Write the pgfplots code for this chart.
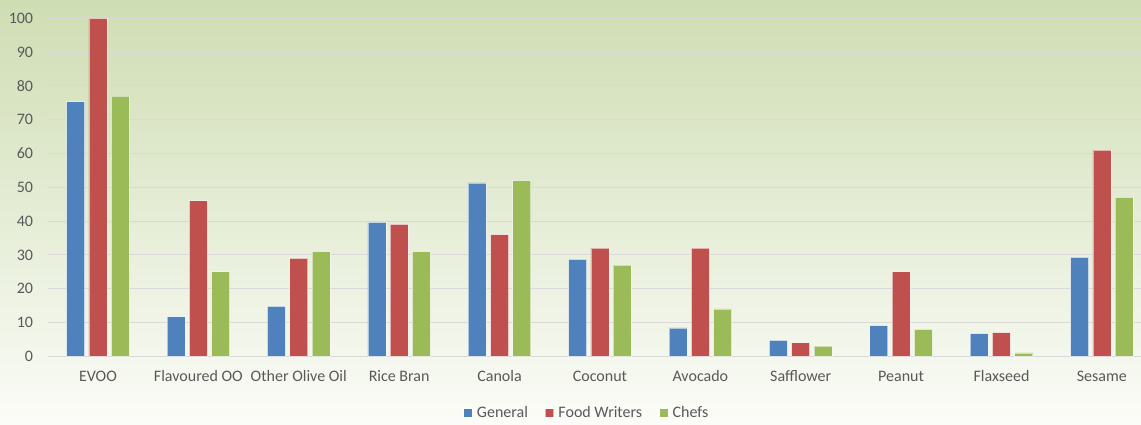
\documentclass[border=0pt]{standalone}
\usepackage{fontspec}
\setmainfont{Carlito}
\usepackage{pgfplots}
\usepackage{pgfplotstable}
\pgfplotsset{compat=1.18}

\definecolor{cGeneral}{HTML}{4F81BD}
\definecolor{cWriters}{HTML}{C0504D}
\definecolor{cChefs}{HTML}{9BBB59}
\definecolor{txt}{HTML}{595959}
\definecolor{gridc}{HTML}{D9D9D9}
\definecolor{bgTop}{HTML}{CFDDB3}
\definecolor{bgBot}{HTML}{FBFCF8}

% Oil preference scores by respondent group
\pgfplotstableread{
idx General Writers Chefs
0   75.3    100     77
1   11.7    46      25
2   14.8    29      31
3   39.6    39      31
4   51.3    36      52
5   28.7    32      27
6   8.4     32      14
7   4.7     4       3
8   9.1     25      8
9   6.7     7       1
10  29.3    61      47
}\oils

\newcommand{\chartfont}{\fontsize{16bp}{19bp}\selectfont}

\begin{document}
\begin{tikzpicture}[x=1bp,y=1bp]
\useasboundingbox (0,0) rectangle (1141,424);
\shade[top color=bgTop, bottom color=bgBot] (0,0) rectangle (1141,424);
\begin{axis}[
  at={(48.3bp,67.7bp)}, anchor=south west,
  scale only axis, width=1092.7bp, height=338bp,
  xmin=-0.495, xmax=10.39, ymin=0, ymax=100,
  ytick={0,10,...,100},
  xtick={0,...,10},
  xticklabels={EVOO, Flavoured OO, Other Olive Oil, Rice Bran, Canola, Coconut, Avocado, Safflower, Peanut, Flaxseed, Sesame},
  axis x line*=bottom, axis y line*=left,
  y axis line style={draw=none},
  x axis line style={draw=gridc, line width=1bp, -},
  major tick length=0pt,
  ymajorgrids, grid style={draw=gridc, line width=0.9bp},
  /pgf/number format/assume math mode=true,
  tick label style={font=\chartfont, text=txt},
  yticklabel style={anchor=east, inner sep=0pt, xshift=-15bp},
  xticklabel style={anchor=north, inner sep=0pt, text height=11bp, text depth=3bp, yshift=-14bp},
  ybar=4.3bp, bar width=18bp,
  legend style={at={(0.492,-0.1678)}, anchor=center, legend columns=-1,
    draw=none, fill=none, font=\chartfont, text=txt,
    nodes={inner sep=0pt},
    /tikz/every odd column/.append style={column sep=4.3bp},
    /tikz/every even column/.append style={column sep=17bp}},
  legend image code/.code={\fill[#1] (0bp,-4.25bp) rectangle (8.5bp,4.25bp);},
]
\addplot[fill=cGeneral, draw=white, draw opacity=0.55, line width=0.7bp] table[x=idx,y=General]{\oils};
\addplot[fill=cWriters, draw=white, draw opacity=0.55, line width=0.7bp] table[x=idx,y=Writers]{\oils};
\addplot[fill=cChefs, draw=white, draw opacity=0.55, line width=0.7bp] table[x=idx,y=Chefs]{\oils};
\legend{General, Food Writers, Chefs}
\end{axis}
\end{tikzpicture}
\end{document}
